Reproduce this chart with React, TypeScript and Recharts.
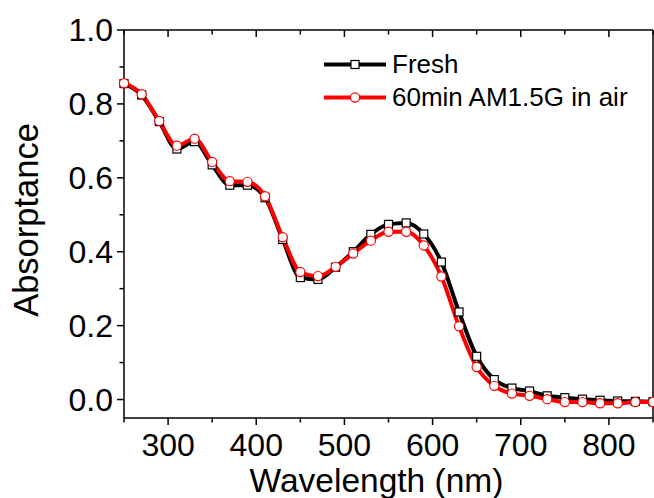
import React from 'react';
import { LineChart, Line, XAxis, YAxis, Legend } from 'recharts';

const wavelengths = [250, 270, 290, 310, 330, 350, 370, 390, 410, 430, 450, 470, 490, 510, 530, 550, 570, 590, 610, 630, 650, 670, 690, 710, 730, 750, 770, 790, 810, 830, 850];
const fresh = [0.855, 0.824, 0.752, 0.678, 0.698, 0.635, 0.58, 0.58, 0.546, 0.433, 0.33, 0.325, 0.358, 0.4, 0.447, 0.474, 0.478, 0.448, 0.372, 0.237, 0.117, 0.054, 0.031, 0.023, 0.01, 0.005, 0.001, -0.002, -0.004, -0.005, -0.006];
const aged = [0.856, 0.826, 0.754, 0.687, 0.706, 0.643, 0.591, 0.589, 0.55, 0.439, 0.345, 0.334, 0.359, 0.395, 0.43, 0.454, 0.454, 0.417, 0.333, 0.198, 0.088, 0.037, 0.016, 0.01, 0.001, -0.007, -0.007, -0.01, -0.01, -0.007, -0.007];

const xMajorTicks = [300, 400, 500, 600, 700, 800];
const xMinorTicks = [250, 350, 450, 550, 650, 750, 850];
const yMajorTicks = [0, 0.2, 0.4, 0.6, 0.8, 1.0];
const yMinorTicks = [0.1, 0.3, 0.5, 0.7, 0.9];
const seriesNames = ['Fresh', '60min AM1.5G in air'];
const xTitle = 'Wavelength (nm)';
const yTitle = 'Absorptance';

const data = wavelengths.map((w, i) => ({ w, fresh: fresh[i], aged: aged[i] }));
const xTicks = [...xMajorTicks, ...xMinorTicks].sort((a, b) => a - b);
const yTicks = [...yMajorTicks, ...yMinorTicks].sort((a, b) => a - b);

const FONT = "'Liberation Sans', Arial, Helvetica, sans-serif";
const AXIS_W = 1.5;
const MAJOR = 7;
const MINOR = 4.5;

const isMajor = (v: number, majors: number[]) => majors.some((m) => Math.abs(m - v) < 1e-9);

const makeTick = (side: 'bottom' | 'left' | 'top' | 'right', majors: number[], labels: boolean) => (props: any) => {
  const { x, y, payload } = props;
  const v = payload.value;
  const major = isMajor(v, majors);
  const len = major ? MAJOR : MINOR;
  let line: any = null;
  let label: any = null;
  if (side === 'bottom') {
    line = <line x1={x} y1={y} x2={x} y2={y + len} stroke="#000" strokeWidth={AXIS_W} />;
    if (labels && major)
      label = (
        <text x={x} y={y + 38} textAnchor="middle" fontFamily={FONT} fontSize={32} fill="#000">
          {String(v)}
        </text>
      );
  } else if (side === 'left') {
    line = <line x1={x} y1={y} x2={x - len} y2={y} stroke="#000" strokeWidth={AXIS_W} />;
    if (labels && major)
      label = (
        <text x={x - 11} y={y} dy="0.355em" textAnchor="end" fontFamily={FONT} fontSize={32} fill="#000">
          {v.toFixed(1)}
        </text>
      );
  } else if (side === 'top') {
    line = <line x1={x} y1={y} x2={x} y2={y + len} stroke="#000" strokeWidth={AXIS_W} />;
  } else {
    line = <line x1={x} y1={y} x2={x - len} y2={y} stroke="#000" strokeWidth={AXIS_W} />;
  }
  return (
    <g>
      {line}
      {label}
    </g>
  );
};

const SquareDot = (props: any) => {
  const { cx, cy, index } = props;
  if (cx == null || cy == null) return <g key={`sq-${index}`} />;
  return <rect key={`sq-${index}`} x={cx - 4} y={cy - 4} width={8} height={8} fill="#fff" stroke="#000" strokeWidth={1.2} />;
};

const CircleDot = (props: any) => {
  const { cx, cy, index } = props;
  if (cx == null || cy == null) return <g key={`ci-${index}`} />;
  return <circle key={`ci-${index}`} cx={cx} cy={cy} r={4.6} fill="#fff" stroke="#ff0000" strokeWidth={1.2} />;
};

const legendColors = ['#000000', '#ff0000'];

const LegendContent = () => (
  <div style={{ fontFamily: FONT, fontSize: 26, color: '#000' }}>
    {seriesNames.map((name, i) => (
      <div key={name} style={{ display: 'flex', alignItems: 'center', height: 33, lineHeight: '33px', whiteSpace: 'nowrap' }}>
        <svg width={64} height={33} style={{ display: 'block' }}>
          <line x1={2} y1={16.5} x2={64} y2={16.5} stroke={legendColors[i]} strokeWidth={4} />
          {i === 0 ? (
            <rect x={29} y={12.5} width={8} height={8} fill="#fff" stroke="#000" strokeWidth={1.2} />
          ) : (
            <circle cx={33} cy={16.5} r={4.6} fill="#fff" stroke="#ff0000" strokeWidth={1.2} />
          )}
        </svg>
        <span style={{ marginLeft: 6 }}>{name}</span>
      </div>
    ))}
  </div>
);

const YTitle = (props: any) => {
  const vb = props.viewBox || { x: 0, y: 30, width: 124, height: 388 };
  const cx = vb.x + 38;
  const cy = vb.y + vb.height / 2 - 4;
  return (
    <text x={cx} y={cy} transform={`rotate(-90, ${cx}, ${cy})`} textAnchor="middle" fontFamily={FONT} fontSize={34.5} fill="#000">
      {yTitle}
    </text>
  );
};

const XTitle = (props: any) => {
  const vb = props.viewBox || { x: 124, y: 418, width: 529, height: 80 };
  const cx = vb.x + vb.width / 2 - 12;
  const cy = vb.y + 74;
  return (
    <text x={cx} y={cy} textAnchor="middle" fontFamily={FONT} fontSize={33.5} fill="#000">
      {xTitle}
    </text>
  );
};

export default function App() {
  return (
    <div style={{ position: 'absolute', left: 0, top: 0, width: 654, height: 498, background: '#fff' }}>
      <LineChart width={654} height={498} data={data} margin={{ top: 30, right: 1, left: 0, bottom: 0 }}>
        <XAxis
          dataKey="w"
          type="number"
          domain={[250, 850]}
          ticks={xTicks}
          interval={0}
          height={80}
          tickSize={0}
          tickMargin={0}
          tickLine={false}
          axisLine={{ stroke: '#000', strokeWidth: AXIS_W }}
          tick={makeTick('bottom', xMajorTicks, true)}
          label={XTitle}
        />
        <XAxis
          xAxisId="top"
          dataKey="w"
          type="number"
          orientation="top"
          mirror
          domain={[250, 850]}
          ticks={xTicks}
          interval={0}
          height={1}
          tickSize={0}
          tickMargin={0}
          tickLine={false}
          axisLine={{ stroke: '#000', strokeWidth: AXIS_W }}
          tick={makeTick('top', xMajorTicks, false)}
        />
        <YAxis
          type="number"
          domain={[-0.05, 1]}
          ticks={yTicks}
          interval={0}
          width={124}
          tickSize={0}
          tickMargin={0}
          tickLine={false}
          axisLine={{ stroke: '#000', strokeWidth: AXIS_W }}
          tick={makeTick('left', yMajorTicks, true)}
          label={YTitle}
        />
        <YAxis
          yAxisId="right"
          type="number"
          orientation="right"
          mirror
          domain={[-0.05, 1]}
          ticks={yTicks}
          interval={0}
          width={1}
          tickSize={0}
          tickMargin={0}
          tickLine={false}
          axisLine={{ stroke: '#000', strokeWidth: AXIS_W }}
          tick={makeTick('right', yMajorTicks, false)}
        />
        <Legend
          layout="vertical"
          align="center"
          verticalAlign="middle"
          content={LegendContent}
          wrapperStyle={{ position: 'absolute', left: 322, top: 48, width: 'auto', height: 'auto' }}
        />
        <Line
          type="monotone"
          dataKey="fresh"
          name={seriesNames[0]}
          stroke="#000000"
          strokeWidth={4}
          dot={SquareDot}
          activeDot={false}
          isAnimationActive={false}
        />
        <Line
          type="monotone"
          dataKey="aged"
          name={seriesNames[1]}
          stroke="#ff0000"
          strokeWidth={4}
          dot={CircleDot}
          activeDot={false}
          isAnimationActive={false}
        />
      </LineChart>
    </div>
  );
}
